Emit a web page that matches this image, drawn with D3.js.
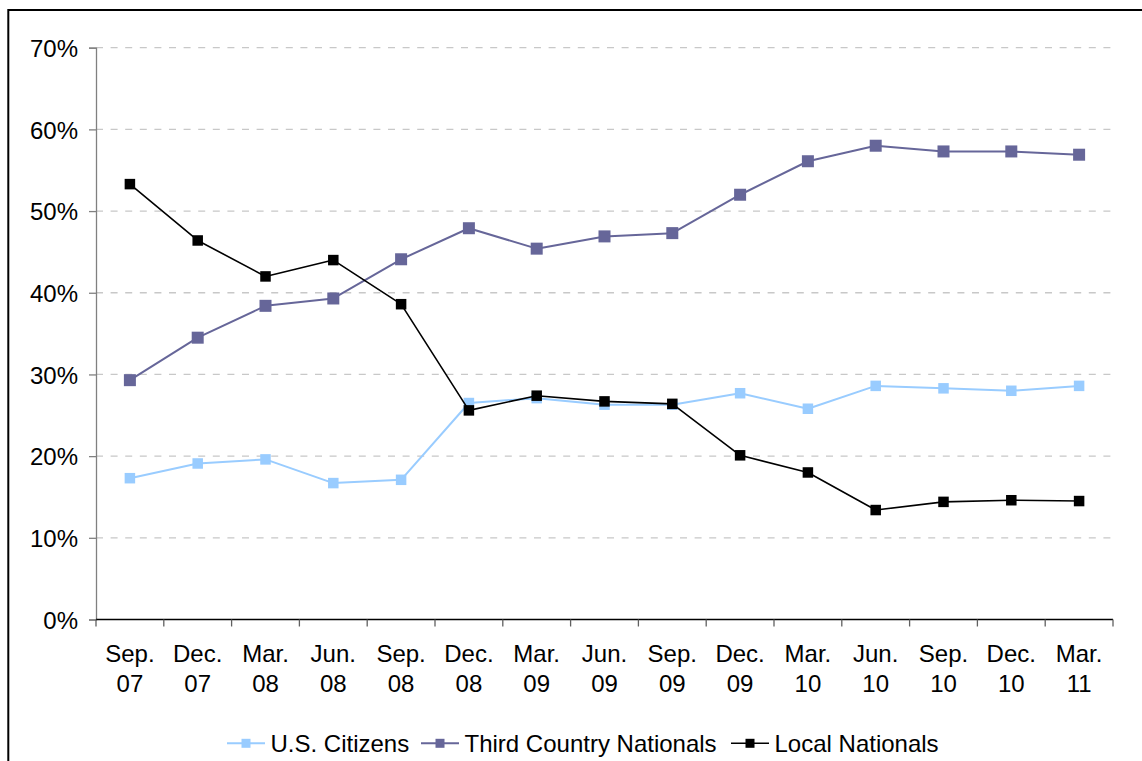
<!DOCTYPE html>
<html>
<head>
<meta charset="utf-8">
<script src="https://cdn.jsdelivr.net/npm/d3@7"></script>
<style>
  html, body { margin: 0; padding: 0; background: #ffffff; }
  svg { display: block; font-family: Arial, "Liberation Sans", sans-serif; }
</style>
</head>
<body>
<svg id="chart" width="1142" height="761"></svg>
<script>
// Quarter labels (two lines each)
const quarters = ["Sep.|07", "Dec.|07", "Mar.|08", "Jun.|08", "Sep.|08", "Dec.|08", "Mar.|09",
                  "Jun.|09", "Sep.|09", "Dec.|09", "Mar.|10", "Jun.|10", "Sep.|10", "Dec.|10", "Mar.|11"];

// Share of workforce, percent
const usCitizens = [17.3, 19.1, 19.6, 16.7, 17.1, 26.5, 27.1, 26.3, 26.3, 27.7, 25.8, 28.6, 28.3, 28.0, 28.6];
const thirdCountry = [29.3, 34.5, 38.4, 39.3, 44.1, 47.9, 45.4, 46.9, 47.3, 52.0, 56.1, 58.0, 57.3, 57.3, 56.9];
const localNationals = [53.3, 46.4, 42.0, 44.0, 38.6, 25.6, 27.4, 26.7, 26.4, 20.1, 18.0, 13.4, 14.4, 14.6, 14.5];

const yTicks = [0, 10, 20, 30, 40, 50, 60, 70];

const seriesList = [
  { name: "U.S. Citizens", values: usCitizens, color: "#99CCFF", width: 2, marker: 10.5 },
  { name: "Third Country Nationals", values: thirdCountry, color: "#666699", width: 2, marker: 12 },
  { name: "Local Nationals", values: localNationals, color: "#000000", width: 1.6, marker: 10.5 }
];

const svg = d3.select("#chart");
const fontSize = 24;

// Outer frame
svg.append("rect")
  .attr("x", 8.3).attr("y", 10)
  .attr("width", 1200).attr("height", 800)
  .attr("fill", "none").attr("stroke", "#000").attr("stroke-width", 2);

const plot = { left: 96, right: 1113, top: 47.7, bottom: 619.5 };

const x = d3.scaleBand().domain(quarters).range([plot.left, plot.right]).paddingInner(0).paddingOuter(0);
const y = d3.scaleLinear().domain([0, 70]).range([plot.bottom, plot.top]);
const cx = d => x(d) + x.bandwidth() / 2;

// Horizontal dashed gridlines
svg.append("g").selectAll("line")
  .data(yTicks.filter(t => t > 0))
  .join("line")
  .attr("x1", plot.left).attr("x2", plot.right)
  .attr("y1", d => y(d)).attr("y2", d => y(d))
  .attr("stroke", "#c8c8c8").attr("stroke-width", 1.3)
  .attr("stroke-dasharray", "7,7.6");

// Y axis
const yAxis = d3.axisLeft(y).tickValues(yTicks).tickFormat(d => d + "%").tickSize(7).tickPadding(11);
const gy = svg.append("g").attr("transform", `translate(${plot.left},0)`).call(yAxis);
gy.select(".domain").attr("stroke", "#808080").attr("stroke-width", 1.3);
gy.selectAll(".tick line").attr("stroke", "#808080").attr("stroke-width", 1.3);
gy.selectAll(".tick text")
  .attr("font-size", fontSize).attr("font-family", "Arial, 'Liberation Sans', sans-serif")
  .attr("fill", "#000").attr("dy", "0.36em");

// X axis: ticks on category boundaries
const boundaries = d3.range(quarters.length + 1).map(i => plot.left + i * x.bandwidth());
const gx = svg.append("g");
gx.append("line")
  .attr("x1", plot.left).attr("x2", plot.right)
  .attr("y1", plot.bottom).attr("y2", plot.bottom)
  .attr("stroke", "#000").attr("stroke-width", 1.3);
gx.selectAll("line.tick")
  .data(boundaries)
  .join("line").attr("class", "tick")
  .attr("x1", d => d).attr("x2", d => d)
  .attr("y1", plot.bottom).attr("y2", plot.bottom + 7)
  .attr("stroke", "#606060").attr("stroke-width", 1.3);

const xl = gx.selectAll("text")
  .data(quarters)
  .join("text")
  .attr("text-anchor", "middle")
  .attr("font-size", fontSize)
  .attr("fill", "#000");
xl.append("tspan").attr("x", d => cx(d)).attr("y", 662).text(d => d.split("|")[0]);
xl.append("tspan").attr("x", d => cx(d)).attr("y", 692).text(d => d.split("|")[1]);

// Series lines and markers
const line = d3.line().x((d, i) => cx(quarters[i])).y(d => y(d));

seriesList.forEach(s => {
  const g = svg.append("g");
  g.append("path")
    .datum(s.values)
    .attr("d", line)
    .attr("fill", "none")
    .attr("stroke", s.color)
    .attr("stroke-width", s.width)
    .attr("stroke-linejoin", "round");
  g.selectAll("rect")
    .data(s.values)
    .join("rect")
    .attr("x", (d, i) => cx(quarters[i]) - s.marker / 2)
    .attr("y", d => y(d) - s.marker / 2)
    .attr("width", s.marker).attr("height", s.marker)
    .attr("fill", s.color);
});

// Legend
const legendItems = [
  { s: seriesList[0], x0: 227 },
  { s: seriesList[1], x0: 421 },
  { s: seriesList[2], x0: 731 }
];
const legendY = 743.3;
const lg = svg.append("g");
legendItems.forEach(it => {
  const g = lg.append("g");
  g.append("line")
    .attr("x1", it.x0).attr("x2", it.x0 + 38)
    .attr("y1", legendY).attr("y2", legendY)
    .attr("stroke", it.s.color).attr("stroke-width", it.s.width);
  g.append("rect")
    .attr("x", it.x0 + 19 - 4.5).attr("y", legendY - 4.5)
    .attr("width", 9).attr("height", 9)
    .attr("fill", it.s.color);
  g.append("text")
    .attr("x", it.x0 + 43.5).attr("y", 751.7)
    .attr("font-size", fontSize)
    .attr("fill", "#000")
    .text(it.s.name);
});
</script>
</body>
</html>
